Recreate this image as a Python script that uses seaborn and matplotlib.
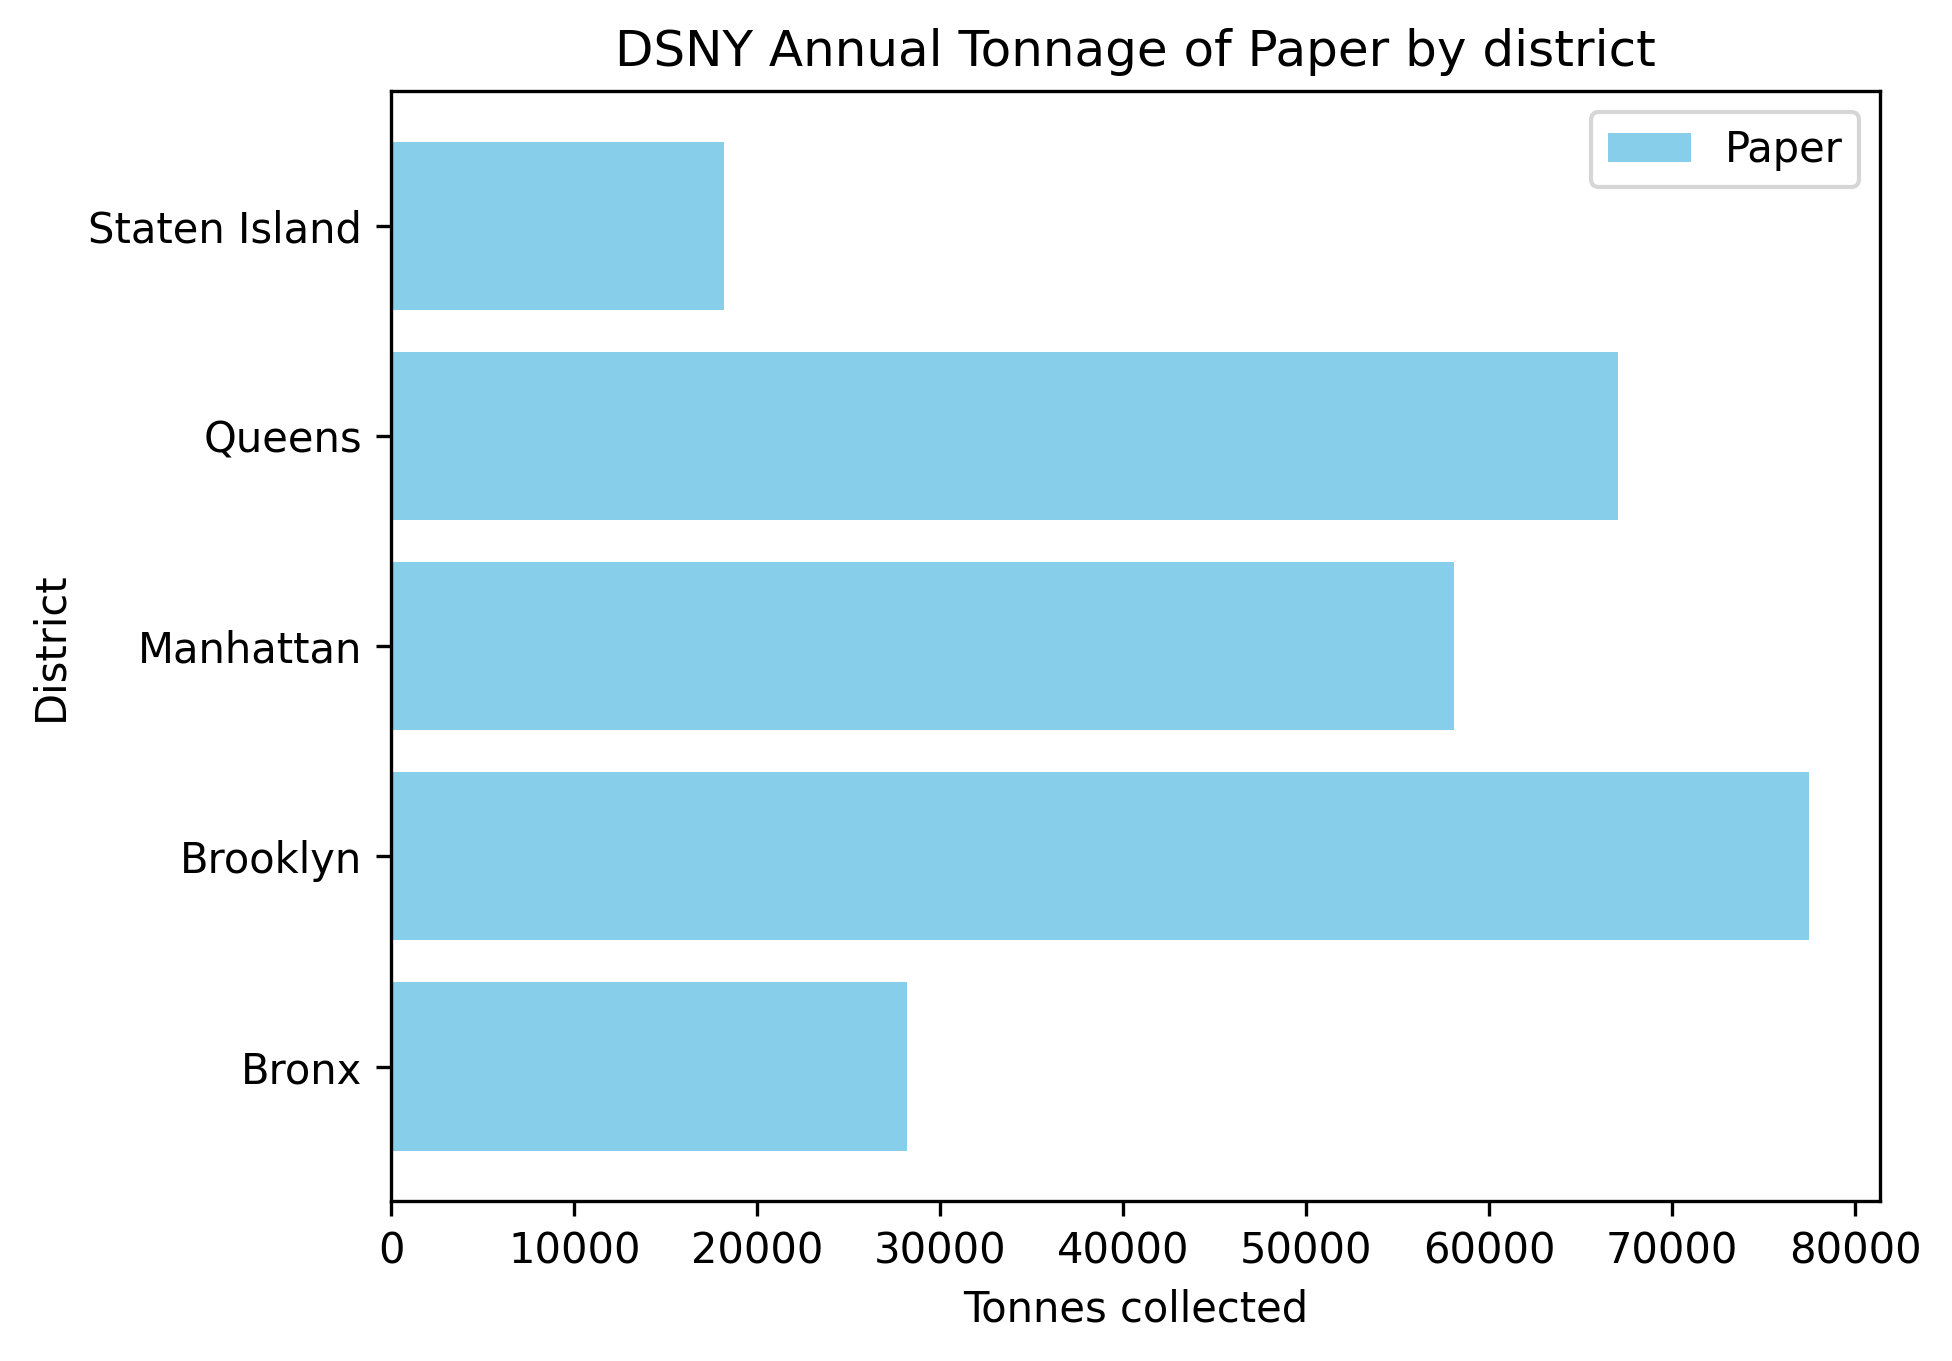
import matplotlib
matplotlib.use('Agg')
import matplotlib.pyplot as plt
import seaborn as sns
import pandas as pd

# District tonnage of paper
districts = ['Bronx', 'Brooklyn', 'Manhattan', 'Queens', 'Staten Island']
paper_tonnes = [28190, 77470, 58080, 67060, 18180]

df = pd.DataFrame({'District': districts, 'Tonnes': paper_tonnes})
# seaborn draws first category on top, so reverse to keep Bronx at the bottom
order = districts[::-1]

fig, ax = plt.subplots(figsize=(1952 / 300, 1361 / 300), dpi=300)
fig.subplots_adjust(left=0.2005, right=0.963, top=0.933, bottom=0.1175)

sns.barplot(data=df, x='Tonnes', y='District', order=order, orient='h',
            color='skyblue', saturation=1, width=0.8, label='Paper', ax=ax)

ax.set_ylim(len(order) - 1 + 0.64, -0.64)
ax.set_xlim(0, max(paper_tonnes) * 1.05)
ax.set_xlabel('Tonnes collected')
ax.set_ylabel('District')
ax.set_title('DSNY Annual Tonnage of Paper by district')
ax.legend(loc='upper right')

fig.savefig('out.png', dpi=300)
